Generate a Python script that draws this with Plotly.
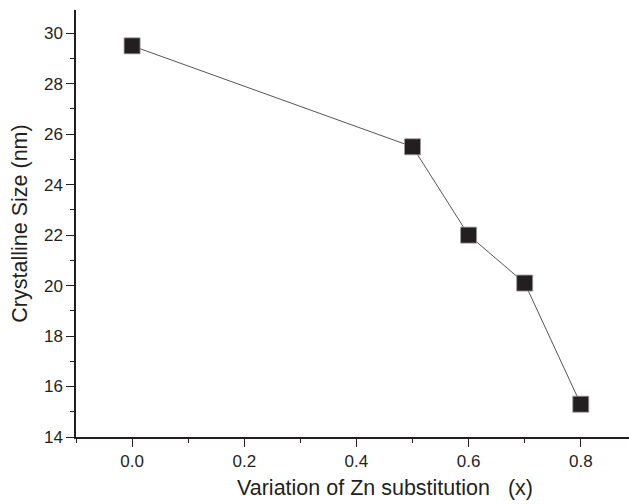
import plotly.graph_objects as go

# Data
zn_substitution = [0.0, 0.5, 0.6, 0.7, 0.8]
crystalline_size = [29.5, 25.5, 22.0, 20.1, 15.3]

x_tick_vals = [0.0, 0.2, 0.4, 0.6, 0.8]
x_tick_text = ["0.0", "0.2", "0.4", "0.6", "0.8"]
x_minor_vals = [-0.1, 0.1, 0.3, 0.5, 0.7]
y_tick_vals = [14, 16, 18, 20, 22, 24, 26, 28, 30]
y_tick_text = ["14", "16", "18", "20", "22", "24", "26", "28", "30"]
y_minor_vals = [15, 17, 19, 21, 23, 25, 27, 29]

x_title = "Variation of Zn substitution &nbsp;&nbsp;(x)"
y_title = "Crystalline Size (nm)"

ink = "#231f20"
font_family = "Liberation Sans, Arial, Helvetica, sans-serif"

fig = go.Figure()
fig.add_trace(go.Scatter(
    x=zn_substitution,
    y=crystalline_size,
    mode="lines+markers",
    line=dict(color="#555555", width=1),
    marker=dict(symbol="square", size=16, color=ink,
                line=dict(color="#9a9a9a", width=0.8)),
    showlegend=False,
))

fig.update_layout(
    width=629, height=504,
    margin=dict(l=76, r=0, t=10, b=67),
    plot_bgcolor="white", paper_bgcolor="white",
    font=dict(family=font_family, color=ink),
)

# x-axis title sits off-centre in the reference (the original axis ran past the crop)
fig.add_annotation(
    text=x_title, xref="paper", yref="paper",
    x=0.5588, y=-0.12, xanchor="center", yanchor="middle",
    showarrow=False, font=dict(size=21.5, color=ink, family=font_family),
)

fig.update_xaxes(
    range=[-0.1, 0.886],
    tickmode="array", tickvals=x_tick_vals, ticktext=x_tick_text,
    ticks="outside", ticklen=8, tickwidth=1.3, tickcolor=ink,
    minor=dict(ticks="outside", ticklen=4, tickwidth=1.3, tickcolor=ink,
               tickmode="array", tickvals=x_minor_vals),
    showline=True, linecolor=ink, linewidth=1.5,
    showgrid=False, zeroline=False,
    tickfont=dict(size=17, color=ink),
    automargin=False,
)
fig.update_yaxes(
    range=[14, 30.92],
    tickmode="array", tickvals=y_tick_vals, ticktext=y_tick_text,
    ticks="outside", ticklen=8, tickwidth=1.3, tickcolor=ink,
    minor=dict(ticks="outside", ticklen=4, tickwidth=1.3, tickcolor=ink,
               tickmode="array", tickvals=y_minor_vals),
    showline=True, linecolor=ink, linewidth=1.5,
    showgrid=False, zeroline=False,
    tickfont=dict(size=17, color=ink),
    title=dict(text=y_title, font=dict(size=21.5, color=ink), standoff=10),
    automargin=False,
)

fig.write_html("out.html",
               config={"displayModeBar": False},
               post_script="document.body.style.margin='0';document.body.style.overflow='hidden';")
